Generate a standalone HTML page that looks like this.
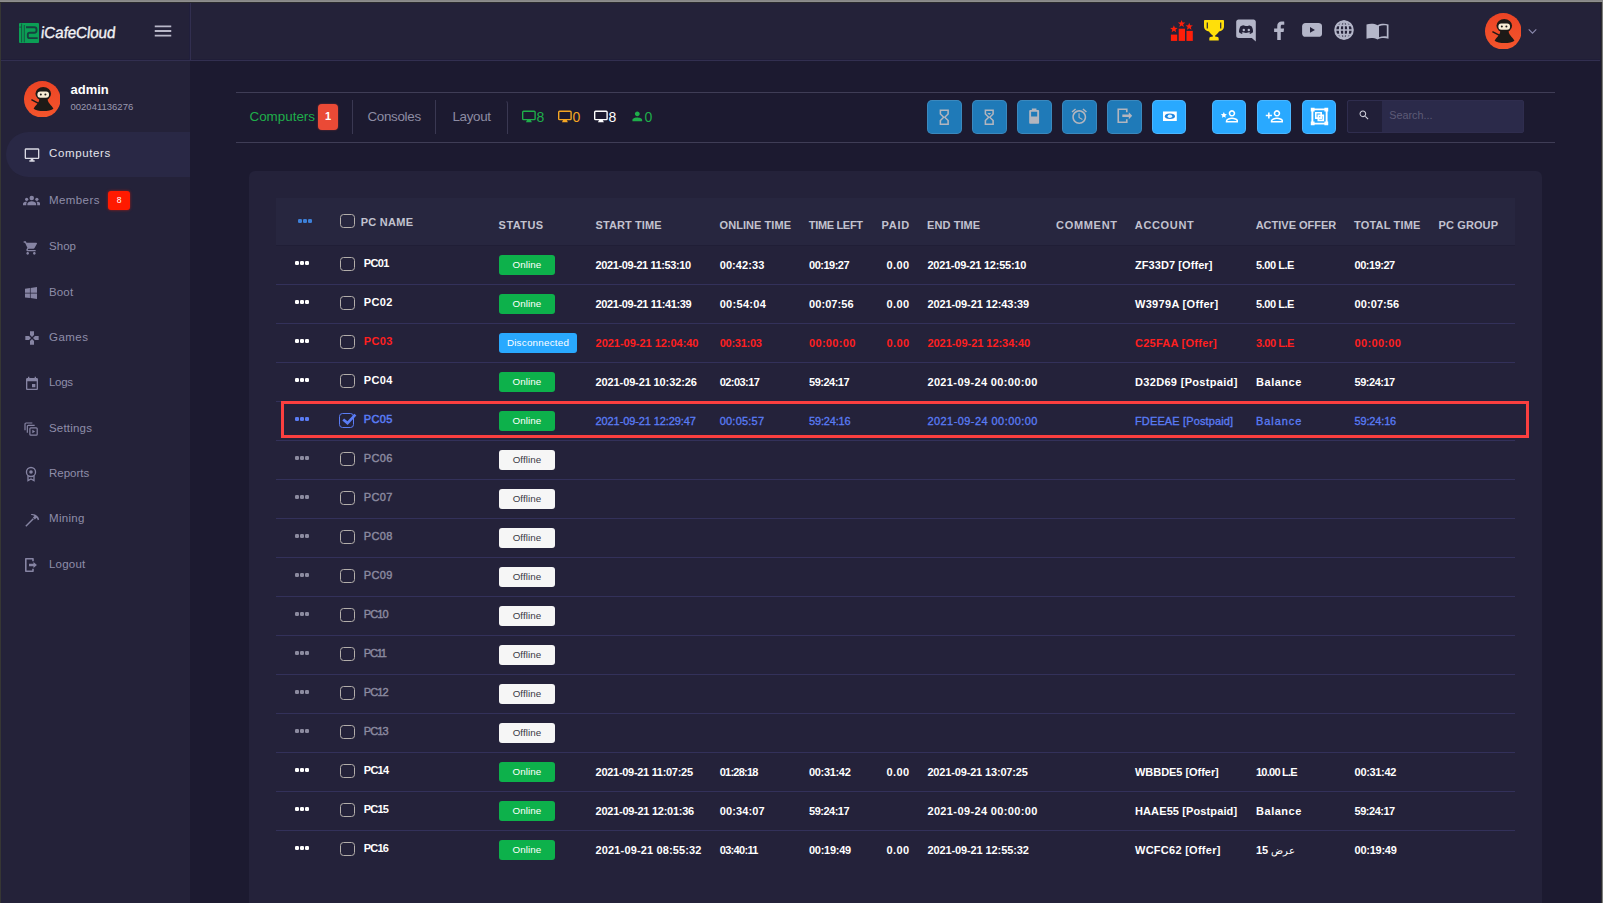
<!DOCTYPE html>
<html><head><meta charset="utf-8"><title>iCafeCloud</title>
<style>
html,body{margin:0;padding:0;}
body{width:1603px;height:903px;overflow:hidden;background:#1c1a30;position:relative;font-family:"Liberation Sans", sans-serif;color:#fff;}
div,span{box-sizing:border-box;}
.abs{position:absolute;}
.t{position:absolute;white-space:nowrap;line-height:1;}
.mi{position:absolute;left:49px;font-size:11.500px;color:#8f8ea9;white-space:nowrap;line-height:14px;}
.th{position:absolute;top:218px;font-size:11px;font-weight:bold;color:#c2c2cf;white-space:nowrap;line-height:14px;}
.c{position:absolute;font-size:11px;font-weight:bold;white-space:nowrap;line-height:14px;}
.sep{position:absolute;left:276px;width:1239px;height:1px;background:#33315a;}
.cb{position:absolute;left:340px;width:14.700px;height:14.700px;border:1.500px solid #b3aeaa;border-radius:3.500px;}
.dots{position:absolute;left:295px;width:15px;height:4px;}
.dots i{position:absolute;top:0;width:4px;height:4.200px;border-radius:1.300px;background:currentColor;}
.bd{position:absolute;left:499px;height:20px;border-radius:3px;font-size:9.800px;text-align:center;line-height:20px;}
.btn{position:absolute;top:100px;width:35px;height:34px;border-radius:5px;}
</style></head><body>

<div class="abs" style="left:0;top:0;width:1603px;height:2px;background:#868686"></div>
<div class="abs" style="left:0;top:1px;width:1603px;height:1px;background:#8e8e8e"></div>
<div class="abs" style="left:0;top:2px;width:1603px;height:58px;background:#242239"></div>
<div class="abs" style="left:0;top:2px;width:1603px;height:1px;background:#2b2b2e"></div>
<div class="abs" style="left:0;top:59px;width:1603px;height:1px;background:#201e38"></div>
<div class="abs" style="left:0;top:60px;width:1603px;height:1px;background:#322f50"></div>
<div class="abs" style="left:0;top:61px;width:190px;height:842px;background:#242239"></div>
<div class="abs" style="left:189px;top:3px;width:1px;height:57px;background:#211f3c"></div>
<div class="abs" style="left:190px;top:3px;width:1px;height:58px;background:#322f50"></div>
<div class="abs" style="left:0;top:3px;width:1px;height:900px;background:#363634"></div>
<div class="abs" style="left:1600px;top:3px;width:1px;height:58px;background:#1f1d33"></div>
<div class="abs" style="left:1601px;top:3px;width:1px;height:900px;background:#2d2d2f"></div>
<div class="abs" style="left:1602px;top:2px;width:1px;height:901px;background:#7e7e7e"></div>
<svg class="abs" style="left:19px;top:23px" width="20" height="20" viewBox="0 0 20 20">
<rect x="0" y="0" width="20" height="20" rx="1" fill="#0b9f55"/>
<path d="M2.600 0.600v18.800M5.300 2v17.400M0.400 4.100h2.200" stroke="#14503f" stroke-width="0.900" fill="none"/>
<path d="M7 4.200h8.300c1.400 0 2.200.8 2.200 2.200v1.200c0 1.400-.8 2.200-2.200 2.200h-4.600c-1.200 0-1.900.7-1.900 1.900v1.500c0 1.200.700 1.900 1.900 1.900h8" stroke="#17403f" stroke-width="1.900" fill="none"/>
</svg>
<div class="t" style="left:40.300px;top:22.200px;font-size:15.800px;line-height:22px;letter-spacing:-0.200px;color:#f1f1f4;-webkit-text-stroke:0.350px #f1f1f4;transform-origin:0 100%;transform:scaleX(0.975) skewX(-6deg);">iCafeCloud</div>
<svg style="position:absolute;left:151.5px;top:19.5px;color:#b9b8c9" width="22" height="22" viewBox="0 0 24 24" fill="currentColor" ><path d="M3 18h18v-2H3v2zm0-5h18v-2H3v2zm0-7v2h18V6H3z"/></svg>
<svg class="abs" style="left:1165px;top:15px" width="32" height="30" viewBox="0 0 32 30"><g fill="#ff1f0a"><rect x="5.900" y="19.600" width="6.300" height="6.300"/><rect x="13.700" y="13.700" width="6.300" height="12.200"/><rect x="21.500" y="15.900" width="6.300" height="10"/><polygon points="8.90,10.30 9.86,12.87 12.61,12.99 10.46,14.71 11.19,17.36 8.90,15.84 6.61,17.36 7.34,14.71 5.19,12.99 7.94,12.87"/><polygon points="16.60,4.90 17.56,7.47 20.31,7.59 18.16,9.31 18.89,11.96 16.60,10.44 14.31,11.96 15.04,9.31 12.89,7.59 15.64,7.47"/><polygon points="24.20,7.70 25.16,10.27 27.91,10.39 25.76,12.11 26.49,14.76 24.20,13.24 21.91,14.76 22.64,12.11 20.49,10.39 23.24,10.27"/></g></svg>
<svg class="abs" style="left:1204px;top:20.300px" width="20" height="20.400" viewBox="0 0 20 20.400">
<path fill="#ffdf0a" d="M0.800 0H19.200C19.700 0 20 .3 20 .8V6.500C20 9.500 17.500 11.300 15 11.500 14 13.300 12.500 14.600 11.300 15.300V16.800H12.800C14.200 16.800 14.700 17.700 14.700 18.800V20.400H5.300V18.800C5.300 17.700 5.800 16.800 7.200 16.800H8.700V15.300C7.500 14.600 6 13.300 5 11.500 2.500 11.300 0 9.500 0 6.500V.8C0 .3.300 0 .800 0Z"/>
<path fill="#242239" d="M2.700 2.600h1.150v6H2.700zM16.150 2.600h1.150v6h-1.150z"/></svg>
<svg class="abs" style="left:1236px;top:19px" width="21" height="23" viewBox="0 0 21 23">
<path d="M2.500 0.500h15c1.300 0 2.300 1 2.300 2.300V22.500l-4-3.500H2.500c-1.300 0-2.300-1-2.300-2.300V2.800c0-1.300 1-2.300 2.300-2.300z" fill="#b4b6c9"/>
<path d="M7.200 6.300c-1 .2-1.900.5-2.700 1-1.100 2-1.600 4-1.500 6 .9.800 1.900 1.300 3 1.600l.7-1.100c-.4-.1-.7-.3-1-.5l.2-.2c2.400 1.100 5.800 1.100 8.200 0l.2.200c-.3.200-.6.400-1 .5l.7 1.100c1.100-.3 2.100-.8 3-1.600.2-2.300-.4-4.300-1.500-6-.8-.5-1.700-.8-2.700-1l-.4.800c-1-.1-1.900-.1-2.800 0z" fill="#242239"/>
<ellipse cx="7.800" cy="11" rx="1.200" ry="1.350" fill="#b4b6c9"/><ellipse cx="12.800" cy="11" rx="1.200" ry="1.350" fill="#b4b6c9"/></svg>
<svg class="abs" style="left:1273px;top:20.500px" width="12" height="19.500" viewBox="0 0 12 20">
<path d="M7.800 20v-8.700h2.900l.5-3.500H7.800V5.600c0-1 .3-1.700 1.700-1.700h1.900V.8C11.100.7 10 .6 8.700.6 6 .6 4.200 2.200 4.200 5.200v2.600H1v3.500h3.200V20z" fill="#b4b6c9"/></svg>
<svg class="abs" style="left:1301.500px;top:23.300px" width="20.200" height="13.800" viewBox="0 0 21 14.500">
<rect x="0" y="0" width="21" height="14.500" rx="3.800" fill="#b4b6c9"/><path d="M8.300 4.300v6l5.200-3z" fill="#242239"/></svg>
<svg class="abs" style="left:1334px;top:20.300px" width="20" height="20" viewBox="0 0 20 20">
<g fill="none" stroke="#b4b6c9" stroke-width="2"><circle cx="10" cy="10" r="8.800"/><ellipse cx="10" cy="10" rx="4.200" ry="8.800"/><path d="M1 10h18M2.500 5.300h15M2.500 14.700h15M10 1v18" stroke-width="1.700"/></g></svg>
<svg class="abs" style="left:1365.500px;top:22.500px" width="23" height="17" viewBox="0 0 23 17">
<path d="M0.500 1.500C4 .3 8 .3 11.500 2.200 15 .3 19 .3 22.500 1.500V15.800C19 14.700 15 14.700 11.500 16.500 8 14.700 4 14.700.5 15.800z" fill="#b4b6c9"/>
<path d="M13 3.300c2.500-1.100 5-1.300 7.800-.7V13.500c-2.800-.5-5.300-.3-7.800.8z" fill="#242239"/></svg>
<svg style="position:absolute;left:1484.75px;top:12.75px" width="36.5" height="36.5" viewBox="0 0 36 36">
<defs><linearGradient id="ng1503" x1="0" y1="0" x2="0" y2="1"><stop offset="0" stop-color="#ec4425"/><stop offset="1" stop-color="#f4552c"/></linearGradient></defs>
<circle cx="18" cy="18" r="18" fill="url(#ng1503)"/>
<path d="M7.300 18.300l8 4.300" stroke="#1d1a17" stroke-width="1.500" fill="none"/>
<ellipse cx="19" cy="12.600" rx="7.700" ry="6.700" fill="#1d1a17"/>
<path d="M15 17.500C15.300 21.500 11.500 23.500 9.500 27.300 13 30.300 25.500 30.300 29 27.300 27 23.500 23.200 21.500 23.300 17.500z" fill="#1d1a17"/>
<rect x="13.200" y="10.400" width="11.500" height="6" rx="2.900" fill="#f7ecd5"/>
<circle cx="16.600" cy="13.400" r="1" fill="#1d1a17"/><circle cx="21.100" cy="13.400" r="1" fill="#1d1a17"/>
</svg>
<svg style="position:absolute;left:1526px;top:24.7px;color:#8c8aae" width="13" height="13" viewBox="0 0 24 24" fill="currentColor" ><path fill="none" stroke="currentColor" stroke-width="2" d="M5 8l7 7 7-7"/></svg>
<svg style="position:absolute;left:23.75px;top:80.75px" width="36.5" height="36.5" viewBox="0 0 36 36">
<defs><linearGradient id="ng42" x1="0" y1="0" x2="0" y2="1"><stop offset="0" stop-color="#ec4425"/><stop offset="1" stop-color="#f4552c"/></linearGradient></defs>
<circle cx="18" cy="18" r="18" fill="url(#ng42)"/>
<path d="M7.300 18.300l8 4.300" stroke="#1d1a17" stroke-width="1.500" fill="none"/>
<ellipse cx="19" cy="12.600" rx="7.700" ry="6.700" fill="#1d1a17"/>
<path d="M15 17.500C15.300 21.500 11.500 23.500 9.500 27.300 13 30.300 25.500 30.300 29 27.300 27 23.500 23.200 21.500 23.300 17.500z" fill="#1d1a17"/>
<rect x="13.200" y="10.400" width="11.500" height="6" rx="2.900" fill="#f7ecd5"/>
<circle cx="16.600" cy="13.400" r="1" fill="#1d1a17"/><circle cx="21.100" cy="13.400" r="1" fill="#1d1a17"/>
</svg>
<div class="t" style="left:70.500px;top:83px;font-size:13px;font-weight:bold;line-height:14px;color:#fff">admin</div>
<div class="t" style="left:70.500px;top:102.200px;font-size:9.500px;line-height:10px;color:#9b99b0">002041136276</div>
<div class="abs" style="left:6px;top:132px;width:184px;height:45px;border-radius:22.500px 0 0 22.500px;background:#292845"></div>
<svg style="position:absolute;left:23.5px;top:146.8px;color:#d9d9e3" width="16" height="16" viewBox="0 0 24 24" fill="currentColor" ><path d="M21 2H3c-1.1 0-2 .9-2 2v12c0 1.1.9 2 2 2h7v2H8v2h8v-2h-2v-2h7c1.1 0 2-.9 2-2V4c0-1.1-.9-2-2-2zm0 14H3V4h18v12z"/></svg>
<div class="mi" style="letter-spacing:0.619px;top:145.53px;color:#e4e4ec">Computers</div>
<svg style="position:absolute;left:22.8px;top:192.3px;color:#8684a3" width="17.5" height="17.5" viewBox="0 0 24 24" fill="currentColor" ><circle cx="12" cy="8.2" r="3.1"/><path d="M12 12.6c-2.6 0-6 1.2-6 3.4V18h12v-2c0-2.2-3.4-3.4-6-3.400z"/><circle cx="5" cy="10" r="2.2"/><circle cx="19" cy="10" r="2.2"/><path d="M5 13.3c-.5 0-1 0-1.500.1C1.600 13.900 0 14.800 0 16.300V18h4.500v-2c0-1 .5-1.900 1.400-2.600-.3-.1-.6-.1-.9-.1zM19 13.3c-.3 0-.6 0-.9.1.9.7 1.400 1.600 1.400 2.600v2H24v-1.700c0-1.500-1.600-2.400-3.500-2.900-.5-.1-1-.1-1.500-.1z"/></svg>
<div class="mi" style="letter-spacing:0.410px;top:192.83px;color:#8f8ea9">Members</div>
<svg style="position:absolute;left:23.3px;top:240.2px;color:#8684a3" width="16" height="16" viewBox="0 0 24 24" fill="currentColor" ><path d="M7 18c-1.1 0-1.990.9-1.990 2S5.900 22 7 22s2-.9 2-2-.9-2-2-2zM1 2v2h2l3.600 7.590-1.350 2.450c-.16.28-.25.610-.25.960 0 1.100.9 2 2 2h12v-2H7.420c-.14 0-.25-.11-.25-.25l.03-.12.900-1.630h7.450c.75 0 1.410-.41 1.750-1.030l3.580-6.490c.08-.14.12-.31.12-.48 0-.55-.45-1-1-1H5.210l-.94-2H1zm16 16c-1.100 0-1.990.9-1.990 2s.89 2 1.990 2 2-.9 2-2-.9-2-2-2z"/></svg>
<div class="mi" style="letter-spacing:0.047px;top:238.63px;color:#8f8ea9">Shop</div>
<svg style="position:absolute;left:22.5px;top:285.3px;color:#8684a3" width="16" height="16" viewBox="0 0 24 24" fill="currentColor" ><path d="M3 5.600l7.400-1v7H3zM11.400 4.400L21 3v8.600h-9.600zM3 12.600h7.400v7L3 18.600zM11.400 12.600H21V21l-9.600-1.400z"/></svg>
<div class="mi" style="letter-spacing:0.143px;top:284.53px;color:#8f8ea9">Boot</div>
<svg style="position:absolute;left:23.5px;top:330px;color:#8684a3" width="16" height="16" viewBox="0 0 24 24" fill="currentColor" ><path d="M15 7.500V2H9v5.500l3 3 3-3zM7.500 9H2v6h5.500l3-3-3-3zM9 16.500V22h6v-5.500l-3-3-3 3zM16.500 9l-3 3 3 3H22V9h-5.500z"/></svg>
<div class="mi" style="letter-spacing:0.455px;top:329.73px;color:#8f8ea9">Games</div>
<svg style="position:absolute;left:23.5px;top:376px;color:#8684a3" width="16" height="16" viewBox="0 0 24 24" fill="currentColor" ><path d="M17 12h-5v5h5v-5zM16 1v2H8V1H6v2H5c-1.110 0-1.990.9-1.990 2L3 19c0 1.100.89 2 2 2h14c1.100 0 2-.9 2-2V5c0-1.100-.9-2-2-2h-1V1h-2zm3 18H5V8h14v11z"/></svg>
<div class="mi" style="letter-spacing:-0.312px;top:374.83px;color:#8f8ea9">Logs</div>
<svg style="position:absolute;left:23px;top:420.6px;color:#8684a3" width="16" height="16" viewBox="0 0 24 24" fill="currentColor" ><path fill="none" stroke="currentColor" stroke-width="1.8" d="M3 14V4.500C3 3.700 3.700 3 4.500 3H14M6.500 17.500V8C6.500 7.200 7.200 6.500 8 6.500h9.500"/><rect x="10.300" y="10.300" width="11" height="11" rx="1.500" fill="none" stroke="currentColor" stroke-width="1.800"/><path d="M14 13.200v5.200l4.200-2.600z"/></svg>
<div class="mi" style="letter-spacing:0.191px;top:420.73px;color:#8f8ea9">Settings</div>
<svg style="position:absolute;left:23.4px;top:466.2px;color:#8684a3" width="16" height="16" viewBox="0 0 24 24" fill="currentColor" ><circle cx="12" cy="9" r="6.800" fill="none" stroke="currentColor" stroke-width="2"/><circle cx="12" cy="9" r="2.700"/><path fill="none" stroke="currentColor" stroke-width="2" d="M7.500 14.500V22l4.500-2.500L16.500 22v-7.500"/></svg>
<div class="mi" style="letter-spacing:-0.014px;top:465.93px;color:#8f8ea9">Reports</div>
<svg style="position:absolute;left:23.5px;top:511.6px;color:#8684a3" width="16" height="16" viewBox="0 0 24 24" fill="currentColor" ><path d="M2 20.600L13.200 9.400l1.500 1.500L3.500 22.100z"/><path d="M10.500 3.200c3.500-.9 7 .5 9.300 2.900 1.500 1.500 2.500 3.200 3 5l-2.100 1.200c-.4-1.300-1.100-2.500-2-3.500l-2.400 2.400-2.900-2.900 2.300-2.300c-1.500-1-3.200-1.500-5-1.400z"/></svg>
<div class="mi" style="letter-spacing:0.302px;top:510.53px;color:#8f8ea9">Mining</div>
<svg style="position:absolute;left:24.3px;top:557px;color:#8684a3" width="16" height="16" viewBox="0 0 24 24" fill="currentColor" ><path fill="none" stroke="currentColor" stroke-width="2.400" stroke-linejoin="round" d="M13.500 6.300V2.700H2.700V21.300H13.500V17.700"/><path d="M7.500 10.300H14.200V7.600L19.400 12 14.200 16.400V13.700H7.500z"/></svg>
<div class="mi" style="letter-spacing:0.222px;top:556.83px;color:#8f8ea9">Logout</div>
<div class="abs" style="left:108px;top:191px;width:22px;height:19px;border-radius:3px;background:#ff1a00;box-shadow:0 0 3px rgba(255,26,0,.6);font-size:8.500px;line-height:19px;text-align:center;color:#fff">8</div>
<div class="abs" style="left:236px;top:92px;width:1319px;height:1px;background:#3f3d56"></div>
<div class="abs" style="left:236px;top:142px;width:1319px;height:1px;background:#3f3d56"></div>
<div class="t" style="letter-spacing:0.000px;left:249.500px;top:109px;font-size:13.400px;line-height:16px;color:#1fae4a">Computers</div>
<div class="abs" style="left:318px;top:104px;width:20px;height:26px;border-radius:4px;background:#ea4a36;box-shadow:0 0 2px rgba(234,74,54,.5);font-size:11px;font-weight:bold;line-height:25px;text-align:center;color:#fff">1</div>
<div class="abs" style="left:352px;top:100px;width:1px;height:34px;background:#3a3852"></div>
<div class="abs" style="left:435px;top:100px;width:1px;height:34px;background:#3a3852"></div>
<div class="abs" style="left:500px;top:100px;width:8px;height:34px;border-right:1px solid #3a3852;border-top:1px solid transparent;border-top-right-radius:4px"></div>
<div class="t" style="letter-spacing:-0.318px;left:367.500px;top:109px;font-size:13.400px;line-height:16px;color:#8d8ca3">Consoles</div>
<div class="t" style="letter-spacing:-0.324px;left:452.400px;top:109px;font-size:13.400px;line-height:16px;color:#8d8ca3">Layout</div>
<svg style="position:absolute;left:521.8px;top:109.7px;color:#1fae4a" width="13.8" height="13.8" viewBox="0 0 24 24" fill="currentColor" ><rect x="1.200" y="2.200" width="21.600" height="14.600" rx="1.600" fill="none" stroke="currentColor" stroke-width="2.400"/><path d="M9 17h6l2.200 4.300H6.800z"/></svg>
<div class="t" style="left:536.5px;top:109px;font-size:14px;line-height:16px;color:#1fae4a">8</div>
<svg style="position:absolute;left:557.8px;top:109.7px;color:#f5a623" width="13.8" height="13.8" viewBox="0 0 24 24" fill="currentColor" ><rect x="1.200" y="2.200" width="21.600" height="14.600" rx="1.600" fill="none" stroke="currentColor" stroke-width="2.400"/><path d="M9 17h6l2.200 4.300H6.800z"/></svg>
<div class="t" style="left:572.5px;top:109px;font-size:14px;line-height:16px;color:#f5a623">0</div>
<svg style="position:absolute;left:593.8px;top:109.7px;color:#ffffff" width="13.8" height="13.8" viewBox="0 0 24 24" fill="currentColor" ><rect x="1.200" y="2.200" width="21.600" height="14.600" rx="1.600" fill="none" stroke="currentColor" stroke-width="2.400"/><path d="M9 17h6l2.200 4.300H6.800z"/></svg>
<div class="t" style="left:608.5px;top:109px;font-size:14px;line-height:16px;color:#ffffff">8</div>
<svg style="position:absolute;left:629.8px;top:108.8px;color:#1fae4a" width="14.6" height="14.6" viewBox="0 0 24 24" fill="currentColor" ><path d="M12 12c2.210 0 4-1.790 4-4s-1.790-4-4-4-4 1.790-4 4 1.790 4 4 4zm0 2c-2.670 0-8 1.340-8 4v2h16v-2c0-2.660-5.330-4-8-4z"/></svg>
<div class="t" style="left:644.5px;top:109px;font-size:14px;line-height:16px;color:#1fae4a">0</div>
<div class="btn" style="left:927px;width:35px;background:#1f7ab8;box-shadow:inset 0 0 0 1px rgba(160,190,215,.22)"></div>
<svg style="position:absolute;left:935.25px;top:107.55px;color:#b3b5be" width="18.5" height="18.5" viewBox="0 0 24 24" fill="currentColor" ><path d="M6 2v6h.01L6 8.010 10 12l-4 4 .01.01H6V22h12v-5.990h-.01L18 16l-4-4 4-3.990-.01-.01H18V2H6zm10 14.500V20H8v-3.500l4-4 4 4zm-4-5l-4-4V4h8v3.500l-4 4z"/></svg>
<div class="btn" style="left:972px;width:35px;background:#1f7ab8;box-shadow:inset 0 0 0 1px rgba(160,190,215,.22)"></div>
<svg style="position:absolute;left:980.25px;top:107.55px;color:#b3b5be" width="18.5" height="18.5" viewBox="0 0 24 24" fill="currentColor" ><path d="M6 2v6h.01L6 8.010 10 12l-4 4 .01.01H6V22h12v-5.990h-.01L18 16l-4-4 4-3.990-.01-.01H18V2H6zm10 14.500V20H8v-3.500l4-4 4 4zm-4-5l-4-4V4h8v3.500l-4 4z"/><path d="M9.500 6.500h5L12 9z"/></svg>
<div class="btn" style="left:1017px;width:35px;background:#1f7ab8;box-shadow:inset 0 0 0 1px rgba(160,190,215,.22)"></div>
<svg style="position:absolute;left:1025.35px;top:107.35px;color:#b3b5be" width="18.3" height="18.3" viewBox="0 0 24 24" fill="currentColor" ><path d="M17 4H15V2H9v2H7C6.200 4 5.500 4.700 5.500 5.500v15c0 .8.700 1.500 1.500 1.500h10c.800 0 1.500-.7 1.500-1.500v-15C18.500 4.700 17.800 4 17 4zM16 12.300H8V6.300h8v6z"/></svg>
<div class="btn" style="left:1062px;width:35px;background:#1f7ab8;box-shadow:inset 0 0 0 1px rgba(160,190,215,.22)"></div>
<svg style="position:absolute;left:1070.25px;top:107.25px;color:#b3b5be" width="18.5" height="18.5" viewBox="0 0 24 24" fill="currentColor" ><path d="M22 5.720l-4.600-3.860-1.290 1.530 4.600 3.860L22 5.720zM7.880 3.390L6.600 1.860 2 5.710l1.290 1.530 4.590-3.850zM12.500 8H11v6l4.750 2.850.75-1.230-4-2.370V8zM12 4c-4.970 0-9 4.030-9 9s4.020 9 9 9c4.970 0 9-4.030 9-9s-4.030-9-9-9zm0 16c-3.870 0-7-3.130-7-7s3.130-7 7-7 7 3.130 7 7-3.130 7-7 7z"/></svg>
<div class="btn" style="left:1107px;width:35px;background:#1f7ab8;box-shadow:inset 0 0 0 1px rgba(160,190,215,.22)"></div>
<svg style="position:absolute;left:1115.25px;top:106.45px;color:#b3b5be" width="19.5" height="19.5" viewBox="0 0 24 24" fill="currentColor" ><path fill="none" stroke="currentColor" stroke-width="2" stroke-linejoin="miter" d="M14.500 7.800V4H4V20H14.500V16.200"/><path d="M9 10.400H17V7.700L21.200 12 17 16.300V13.600H9z"/></svg>
<div class="btn" style="left:1152px;width:34px;background:#29a9ff;box-shadow:inset 0 0 0 1px rgba(255,255,255,.16)"></div>
<svg style="position:absolute;left:1163.02px;top:108.82px;color:#ffffff" width="16.56" height="16.56" viewBox="0 0 24 24" fill="currentColor" ><path d="M0 3.600h20v13.800H0z"/><ellipse cx="10" cy="10.500" rx="7.300" ry="3.900" fill="#1f86e0"/><ellipse cx="10" cy="10.500" rx="3.300" ry="2.500" fill="#e8f6ff"/></svg>
<div class="btn" style="left:1212px;width:34px;background:#29a9ff;box-shadow:inset 0 0 0 1px rgba(255,255,255,.16)"></div>
<svg style="position:absolute;left:1219.75px;top:107.25px;color:#ffffff" width="18.5" height="18.5" viewBox="0 0 24 24" fill="currentColor" ><path fill="none" stroke="currentColor" stroke-width="2" d="M15.500 5a3.200 3.200 0 1 0 .001 0zM8.500 19v-1c0-2.200 4.400-3.300 7-3.300s7 1.100 7 3.300v1z"/><path d="M5 6.500l1.200 2.600 2.800.3-2.100 1.900.6 2.800L5 12.700l-2.500 1.400.6-2.800L1 9.400l2.800-.3z"/></svg>
<div class="btn" style="left:1257px;width:34px;background:#29a9ff;box-shadow:inset 0 0 0 1px rgba(255,255,255,.16)"></div>
<svg style="position:absolute;left:1264.75px;top:107.25px;color:#ffffff" width="18.5" height="18.5" viewBox="0 0 24 24" fill="currentColor" ><path fill="none" stroke="currentColor" stroke-width="2" d="M15.500 5a3.200 3.200 0 1 0 .001 0zM8.500 19v-1c0-2.200 4.400-3.300 7-3.300s7 1.100 7 3.300v1z"/><path d="M6 10V7H4v3H1v2h3v3h2v-3h3v-2H6z"/></svg>
<div class="btn" style="left:1302px;width:34px;background:#29a9ff;box-shadow:inset 0 0 0 1px rgba(255,255,255,.16)"></div>
<svg style="position:absolute;left:1309.5px;top:107.0px;color:#ffffff" width="19" height="19" viewBox="0 0 24 24" fill="currentColor" ><path fill="none" stroke="currentColor" stroke-width="2.400" d="M3 3h18v18H3z"/><path d="M1 1h4.800v4.800H1zM18.200 1H23v4.800h-4.800zM1 18.200h4.800V23H1zM18.200 18.200H23V23h-4.800z"/><path fill="none" stroke="currentColor" stroke-width="2.100" d="M7.300 7.300h6.800v6.800H7.300zM10.500 10.500h6.300v6.300h-6.300z"/></svg>
<div class="abs" style="left:1347px;top:100px;width:177px;height:33px;border-radius:2px;background:#2b2a4a;border:1px solid #2f2d4e"></div>
<div class="abs" style="left:1348px;top:101px;width:34px;height:31px;border-radius:2px 0 0 2px;background:#211f38"></div>
<svg style="position:absolute;left:1358px;top:108.8px;color:#d4d4de" width="12.3" height="12.3" viewBox="0 0 24 24" fill="currentColor" ><path d="M15.500 14h-.79l-.28-.27C15.410 12.590 16 11.110 16 9.500 16 5.910 13.090 3 9.500 3S3 5.910 3 9.500 5.910 16 9.500 16c1.610 0 3.090-.59 4.230-1.570l.27.28v.79l5 4.990L20.490 19l-4.990-5zm-6 0C7.010 14 5 11.990 5 9.500S7.010 5 9.500 5 14 7.010 14 9.500 11.990 14 9.500 14z"/></svg>
<div class="t" style="left:1389.300px;top:108.500px;font-size:10.800px;line-height:12px;color:#5d5b77">Search...</div>
<div class="abs" style="left:249px;top:171px;width:1293px;height:760px;border-radius:6px;background:#24223a"></div>
<div class="abs" style="left:276px;top:198px;width:1239px;height:47px;background:#27263f"></div>
<div class="abs" style="left:276px;top:245px;width:1239px;height:1px;background:#201e36"></div>
<div class="dots" style="left:297.5px;top:219px;color:#3d80d8"><i style="left:0"></i><i style="left:5.100px"></i><i style="left:10.200px"></i></div>
<div class="cb" style="top:213.500px"></div>
<div class="th" style="letter-spacing:0.261px;left:360.7px;top:215px">PC NAME</div>
<div class="th" style="letter-spacing:0.445px;left:498.6px;top:218px">STATUS</div>
<div class="th" style="letter-spacing:0.101px;left:595.5px;top:218px">START TIME</div>
<div class="th" style="letter-spacing:0.051px;left:719.6px;top:218px">ONLINE TIME</div>
<div class="th" style="letter-spacing:-0.329px;left:808.8px;top:218px">TIME LEFT</div>
<div class="th" style="letter-spacing:0.810px;left:881.4px;top:218px">PAID</div>
<div class="th" style="letter-spacing:0.091px;left:927px;top:218px">END TIME</div>
<div class="th" style="letter-spacing:0.695px;left:1056px;top:218px">COMMENT</div>
<div class="th" style="letter-spacing:0.650px;left:1134.8px;top:218px">ACCOUNT</div>
<div class="th" style="letter-spacing:-0.007px;left:1255.7px;top:218px">ACTIVE OFFER</div>
<div class="th" style="letter-spacing:0.180px;left:1354px;top:218px">TOTAL TIME</div>
<div class="th" style="letter-spacing:0.102px;left:1438.6px;top:218px">PC GROUP</div>
<div class="dots" style="left:294.8px;top:261.3px;color:#ffffff"><i style="left:0"></i><i style="left:5.100px"></i><i style="left:10.200px"></i></div>
<div class="cb" style="top:256.8px"></div>
<div class="c" style="letter-spacing:-0.677px;left:363.800px;top:255.8px;color:#ffffff;font-weight:bold">PC01</div>
<div class="bd" style="letter-spacing:0.074px;top:255.2px;width:56px;background:#0db14b;color:#fff">Online</div>
<div class="c" style="letter-spacing:-0.403px;left:595.6px;top:258.4px;color:#ffffff">2021-09-21 11:53:10</div>
<div class="c" style="letter-spacing:0.079px;left:719.7px;top:258.4px;color:#ffffff">00:42:33</div>
<div class="c" style="letter-spacing:-0.492px;left:809px;top:258.4px;color:#ffffff">00:19:27</div>
<div class="c" style="letter-spacing:0.393px;left:886.600px;top:258.4px;color:#ffffff">0.00</div>
<div class="c" style="letter-spacing:-0.248px;left:927.4px;top:258.4px;color:#ffffff">2021-09-21 12:55:10</div>
<div class="c" style="letter-spacing:0.076px;left:1135px;top:258.4px;color:#ffffff">ZF33D7 [Offer]</div>
<div class="c" style="letter-spacing:-0.468px;left:1256px;top:258.4px;color:#ffffff">5.00 L.E</div>
<div class="c" style="letter-spacing:-0.492px;left:1354.6px;top:258.4px;color:#ffffff">00:19:27</div>
<div class="sep" style="top:284px"></div>
<div class="dots" style="left:294.8px;top:300.3px;color:#ffffff"><i style="left:0"></i><i style="left:5.100px"></i><i style="left:10.200px"></i></div>
<div class="cb" style="top:295.8px"></div>
<div class="c" style="letter-spacing:0.323px;left:363.800px;top:294.8px;color:#ffffff;font-weight:bold">PC02</div>
<div class="bd" style="letter-spacing:0.074px;top:294.2px;width:56px;background:#0db14b;color:#fff">Online</div>
<div class="c" style="letter-spacing:-0.375px;left:595.6px;top:297.4px;color:#ffffff">2021-09-21 11:41:39</div>
<div class="c" style="letter-spacing:0.293px;left:719.7px;top:297.4px;color:#ffffff">00:54:04</div>
<div class="c" style="letter-spacing:0.079px;left:809px;top:297.4px;color:#ffffff">00:07:56</div>
<div class="c" style="letter-spacing:0.393px;left:886.600px;top:297.4px;color:#ffffff">0.00</div>
<div class="c" style="letter-spacing:-0.092px;left:927.4px;top:297.4px;color:#ffffff">2021-09-21 12:43:39</div>
<div class="c" style="letter-spacing:0.311px;left:1135px;top:297.4px;color:#ffffff">W3979A [Offer]</div>
<div class="c" style="letter-spacing:-0.468px;left:1256px;top:297.4px;color:#ffffff">5.00 L.E</div>
<div class="c" style="letter-spacing:0.079px;left:1354.6px;top:297.4px;color:#ffffff">00:07:56</div>
<div class="sep" style="top:323px"></div>
<div class="dots" style="left:294.8px;top:339.3px;color:#ffffff"><i style="left:0"></i><i style="left:5.100px"></i><i style="left:10.200px"></i></div>
<div class="cb" style="top:334.8px"></div>
<div class="c" style="letter-spacing:0.323px;left:363.800px;top:333.8px;color:#ff1f1f;font-weight:bold">PC03</div>
<div class="bd" style="letter-spacing:0.239px;top:333.2px;width:78px;background:#29a9ff;color:#fff">Disconnected</div>
<div class="c" style="letter-spacing:-0.026px;left:595.6px;top:336.4px;color:#ff1f1f">2021-09-21 12:04:40</div>
<div class="c" style="letter-spacing:-0.250px;left:719.7px;top:336.4px;color:#ff1f1f">00:31:03</div>
<div class="c" style="letter-spacing:0.322px;left:809px;top:336.4px;color:#ff1f1f">00:00:00</div>
<div class="c" style="letter-spacing:0.393px;left:886.600px;top:336.4px;color:#ff1f1f">0.00</div>
<div class="c" style="letter-spacing:-0.037px;left:927.4px;top:336.4px;color:#ff1f1f">2021-09-21 12:34:40</div>
<div class="c" style="letter-spacing:0.251px;left:1135px;top:336.4px;color:#ff1f1f">C25FAA [Offer]</div>
<div class="c" style="letter-spacing:-0.468px;left:1256px;top:336.4px;color:#ff1f1f">3.00 L.E</div>
<div class="c" style="letter-spacing:0.322px;left:1354.6px;top:336.4px;color:#ff1f1f">00:00:00</div>
<div class="sep" style="top:362px"></div>
<div class="dots" style="left:294.8px;top:378.3px;color:#ffffff"><i style="left:0"></i><i style="left:5.100px"></i><i style="left:10.200px"></i></div>
<div class="cb" style="top:373.8px"></div>
<div class="c" style="letter-spacing:0.323px;left:363.800px;top:372.8px;color:#ffffff;font-weight:bold">PC04</div>
<div class="bd" style="letter-spacing:0.074px;top:372.2px;width:56px;background:#0db14b;color:#fff">Online</div>
<div class="c" style="letter-spacing:-0.120px;left:595.6px;top:375.4px;color:#ffffff">2021-09-21 10:32:26</div>
<div class="c" style="letter-spacing:-0.550px;left:719.7px;top:375.4px;color:#ffffff">02:03:17</div>
<div class="c" style="letter-spacing:-0.492px;left:809px;top:375.4px;color:#ffffff">59:24:17</div>
<div class="c" style="letter-spacing:0.374px;left:927.4px;top:375.4px;color:#ffffff">2021-09-24 00:00:00</div>
<div class="c" style="letter-spacing:0.319px;left:1135px;top:375.4px;color:#ffffff">D32D69 [Postpaid]</div>
<div class="c" style="letter-spacing:0.533px;left:1256px;top:375.4px;color:#ffffff">Balance</div>
<div class="c" style="letter-spacing:-0.492px;left:1354.6px;top:375.4px;color:#ffffff">59:24:17</div>
<div class="sep" style="top:401px"></div>
<div class="dots" style="left:294.8px;top:417.3px;color:#5a7cf5"><i style="left:0"></i><i style="left:5.100px"></i><i style="left:10.200px"></i></div>
<div class="cb" style="top:413px;left:339px;width:14.500px;height:14.500px;border-color:#5a7cf5;background:#24223a"></div>
<svg class="abs" style="left:340.500px;top:410.5px" width="16" height="16" viewBox="0 0 16 16"><path d="M2.200 8.400l4.300 3.700L14.400 3.600" fill="none" stroke="#5a7cf5" stroke-width="2.700"/></svg>
<div class="c" style="letter-spacing:0.323px;left:363.800px;top:411.8px;color:#5a7cf5;font-weight:normal;-webkit-text-stroke:0.500px #5a7cf5">PC05</div>
<div class="bd" style="letter-spacing:0.074px;top:411.2px;width:56px;background:#0db14b;color:#fff">Online</div>
<div class="c" style="letter-spacing:-0.109px;left:595.6px;top:414.4px;color:#5a7cf5;font-weight:normal;-webkit-text-stroke:0.300px #5a7cf5">2021-09-21 12:29:47</div>
<div class="c" style="letter-spacing:0.225px;left:719.7px;top:414.4px;color:#5a7cf5;font-weight:normal;-webkit-text-stroke:0.300px #5a7cf5">00:05:57</div>
<div class="c" style="letter-spacing:-0.175px;left:809px;top:414.4px;color:#5a7cf5;font-weight:normal;-webkit-text-stroke:0.300px #5a7cf5">59:24:16</div>
<div class="c" style="letter-spacing:0.441px;left:927.4px;top:414.4px;color:#5a7cf5;font-weight:normal;-webkit-text-stroke:0.300px #5a7cf5">2021-09-24 00:00:00</div>
<div class="c" style="letter-spacing:0.131px;left:1135px;top:414.4px;color:#5a7cf5;font-weight:normal;-webkit-text-stroke:0.300px #5a7cf5">FDEEAE [Postpaid]</div>
<div class="c" style="letter-spacing:0.939px;left:1256px;top:414.4px;color:#5a7cf5;font-weight:normal;-webkit-text-stroke:0.300px #5a7cf5">Balance</div>
<div class="c" style="letter-spacing:-0.175px;left:1354.6px;top:414.4px;color:#5a7cf5;font-weight:normal;-webkit-text-stroke:0.300px #5a7cf5">59:24:16</div>
<div class="sep" style="top:440px"></div>
<div class="dots" style="left:294.8px;top:456.3px;color:#8c8ba0"><i style="left:0"></i><i style="left:5.100px"></i><i style="left:10.200px"></i></div>
<div class="cb" style="top:451.8px"></div>
<div class="c" style="letter-spacing:0.323px;left:363.800px;top:450.8px;color:#8c8ba0;font-weight:normal;-webkit-text-stroke:0.400px #8c8ba0">PC06</div>
<div class="bd" style="letter-spacing:0.077px;top:450.2px;width:56px;background:#f6f6f6;color:#3a3a45">Offline</div>
<div class="sep" style="top:479px"></div>
<div class="dots" style="left:294.8px;top:495.3px;color:#8c8ba0"><i style="left:0"></i><i style="left:5.100px"></i><i style="left:10.200px"></i></div>
<div class="cb" style="top:490.8px"></div>
<div class="c" style="letter-spacing:0.323px;left:363.800px;top:489.8px;color:#8c8ba0;font-weight:normal;-webkit-text-stroke:0.400px #8c8ba0">PC07</div>
<div class="bd" style="letter-spacing:0.077px;top:489.2px;width:56px;background:#f6f6f6;color:#3a3a45">Offline</div>
<div class="sep" style="top:518px"></div>
<div class="dots" style="left:294.8px;top:534.3px;color:#8c8ba0"><i style="left:0"></i><i style="left:5.100px"></i><i style="left:10.200px"></i></div>
<div class="cb" style="top:529.8px"></div>
<div class="c" style="letter-spacing:0.323px;left:363.800px;top:528.8px;color:#8c8ba0;font-weight:normal;-webkit-text-stroke:0.400px #8c8ba0">PC08</div>
<div class="bd" style="letter-spacing:0.077px;top:528.2px;width:56px;background:#f6f6f6;color:#3a3a45">Offline</div>
<div class="sep" style="top:557px"></div>
<div class="dots" style="left:294.8px;top:573.3px;color:#8c8ba0"><i style="left:0"></i><i style="left:5.100px"></i><i style="left:10.200px"></i></div>
<div class="cb" style="top:568.8px"></div>
<div class="c" style="letter-spacing:0.323px;left:363.800px;top:567.8px;color:#8c8ba0;font-weight:normal;-webkit-text-stroke:0.400px #8c8ba0">PC09</div>
<div class="bd" style="letter-spacing:0.077px;top:567.2px;width:56px;background:#f6f6f6;color:#3a3a45">Offline</div>
<div class="sep" style="top:596px"></div>
<div class="dots" style="left:294.8px;top:612.3px;color:#8c8ba0"><i style="left:0"></i><i style="left:5.100px"></i><i style="left:10.200px"></i></div>
<div class="cb" style="top:607.8px"></div>
<div class="c" style="letter-spacing:-0.877px;left:363.800px;top:606.8px;color:#8c8ba0;font-weight:normal;-webkit-text-stroke:0.400px #8c8ba0">PC10</div>
<div class="bd" style="letter-spacing:0.077px;top:606.2px;width:56px;background:#f6f6f6;color:#3a3a45">Offline</div>
<div class="sep" style="top:635px"></div>
<div class="dots" style="left:294.8px;top:651.3px;color:#8c8ba0"><i style="left:0"></i><i style="left:5.100px"></i><i style="left:10.200px"></i></div>
<div class="cb" style="top:646.8px"></div>
<div class="c" style="letter-spacing:-1.200px;left:363.800px;top:645.8px;color:#8c8ba0;font-weight:normal;-webkit-text-stroke:0.400px #8c8ba0">PC11</div>
<div class="bd" style="letter-spacing:0.077px;top:645.2px;width:56px;background:#f6f6f6;color:#3a3a45">Offline</div>
<div class="sep" style="top:674px"></div>
<div class="dots" style="left:294.8px;top:690.3px;color:#8c8ba0"><i style="left:0"></i><i style="left:5.100px"></i><i style="left:10.200px"></i></div>
<div class="cb" style="top:685.8px"></div>
<div class="c" style="letter-spacing:-0.910px;left:363.800px;top:684.8px;color:#8c8ba0;font-weight:normal;-webkit-text-stroke:0.400px #8c8ba0">PC12</div>
<div class="bd" style="letter-spacing:0.077px;top:684.2px;width:56px;background:#f6f6f6;color:#3a3a45">Offline</div>
<div class="sep" style="top:713px"></div>
<div class="dots" style="left:294.8px;top:729.3px;color:#8c8ba0"><i style="left:0"></i><i style="left:5.100px"></i><i style="left:10.200px"></i></div>
<div class="cb" style="top:724.8px"></div>
<div class="c" style="letter-spacing:-0.910px;left:363.800px;top:723.8px;color:#8c8ba0;font-weight:normal;-webkit-text-stroke:0.400px #8c8ba0">PC13</div>
<div class="bd" style="letter-spacing:0.077px;top:723.2px;width:56px;background:#f6f6f6;color:#3a3a45">Offline</div>
<div class="sep" style="top:752px"></div>
<div class="dots" style="left:294.8px;top:768.3px;color:#ffffff"><i style="left:0"></i><i style="left:5.100px"></i><i style="left:10.200px"></i></div>
<div class="cb" style="top:763.8px"></div>
<div class="c" style="letter-spacing:-0.744px;left:363.800px;top:762.8px;color:#ffffff;font-weight:bold">PC14</div>
<div class="bd" style="letter-spacing:0.074px;top:762.2px;width:56px;background:#0db14b;color:#fff">Online</div>
<div class="c" style="letter-spacing:-0.297px;left:595.6px;top:765.4px;color:#ffffff">2021-09-21 11:07:25</div>
<div class="c" style="letter-spacing:-0.764px;left:719.7px;top:765.4px;color:#ffffff">01:28:18</div>
<div class="c" style="letter-spacing:-0.321px;left:809px;top:765.4px;color:#ffffff">00:31:42</div>
<div class="c" style="letter-spacing:0.393px;left:886.600px;top:765.4px;color:#ffffff">0.00</div>
<div class="c" style="letter-spacing:-0.159px;left:927.4px;top:765.4px;color:#ffffff">2021-09-21 13:07:25</div>
<div class="c" style="letter-spacing:-0.042px;left:1135px;top:765.4px;color:#ffffff">WBBDE5 [Offer]</div>
<div class="c" style="letter-spacing:-0.750px;left:1256px;top:765.4px;color:#ffffff">10.00 L.E</div>
<div class="c" style="letter-spacing:-0.321px;left:1354.6px;top:765.4px;color:#ffffff">00:31:42</div>
<div class="sep" style="top:791px"></div>
<div class="dots" style="left:294.8px;top:807.3px;color:#ffffff"><i style="left:0"></i><i style="left:5.100px"></i><i style="left:10.200px"></i></div>
<div class="cb" style="top:802.8px"></div>
<div class="c" style="letter-spacing:-0.844px;left:363.800px;top:801.8px;color:#ffffff;font-weight:bold">PC15</div>
<div class="bd" style="letter-spacing:0.074px;top:801.2px;width:56px;background:#0db14b;color:#fff">Online</div>
<div class="c" style="letter-spacing:-0.264px;left:595.6px;top:804.4px;color:#ffffff">2021-09-21 12:01:36</div>
<div class="c" style="letter-spacing:0.122px;left:719.7px;top:804.4px;color:#ffffff">00:34:07</div>
<div class="c" style="letter-spacing:-0.492px;left:809px;top:804.4px;color:#ffffff">59:24:17</div>
<div class="c" style="letter-spacing:0.374px;left:927.4px;top:804.4px;color:#ffffff">2021-09-24 00:00:00</div>
<div class="c" style="letter-spacing:0.116px;left:1135px;top:804.4px;color:#ffffff">HAAE55 [Postpaid]</div>
<div class="c" style="letter-spacing:0.533px;left:1256px;top:804.4px;color:#ffffff">Balance</div>
<div class="c" style="letter-spacing:-0.492px;left:1354.6px;top:804.4px;color:#ffffff">59:24:17</div>
<div class="sep" style="top:830px"></div>
<div class="dots" style="left:294.8px;top:846.3px;color:#ffffff"><i style="left:0"></i><i style="left:5.100px"></i><i style="left:10.200px"></i></div>
<div class="cb" style="top:841.8px"></div>
<div class="c" style="letter-spacing:-0.777px;left:363.800px;top:840.8px;color:#ffffff;font-weight:bold">PC16</div>
<div class="bd" style="letter-spacing:0.074px;top:840.2px;width:56px;background:#0db14b;color:#fff">Online</div>
<div class="c" style="letter-spacing:0.136px;left:595.6px;top:843.4px;color:#ffffff">2021-09-21 08:55:32</div>
<div class="c" style="letter-spacing:-0.677px;left:719.7px;top:843.4px;color:#ffffff">03:40:11</div>
<div class="c" style="letter-spacing:-0.264px;left:809px;top:843.4px;color:#ffffff">00:19:49</div>
<div class="c" style="letter-spacing:0.393px;left:886.600px;top:843.4px;color:#ffffff">0.00</div>
<div class="c" style="letter-spacing:-0.103px;left:927.4px;top:843.4px;color:#ffffff">2021-09-21 12:55:32</div>
<div class="c" style="letter-spacing:0.270px;left:1135px;top:843.4px;color:#ffffff">WCFC62 [Offer]</div>
<div class="c" style="left:1256px;top:843.4px;color:#ffffff">15 <span style="font-weight:normal;font-size:10px">عرض</span></div>
<div class="c" style="letter-spacing:-0.264px;left:1354.6px;top:843.4px;color:#ffffff">00:19:49</div>
<div class="abs" style="left:281px;top:401px;width:1248px;height:37px;border:3px solid #fb3f3f"></div>
</body></html>
